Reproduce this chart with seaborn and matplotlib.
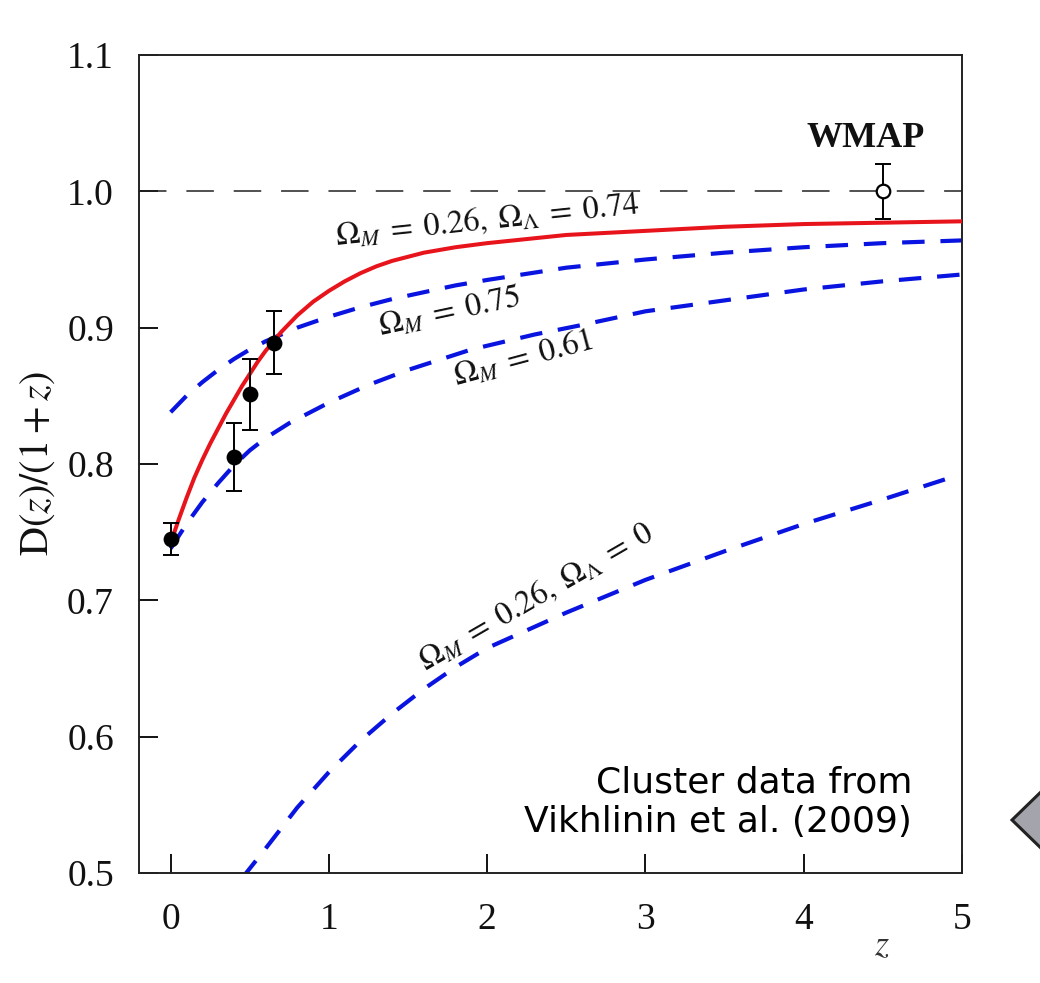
import matplotlib
matplotlib.use("Agg")
import matplotlib.pyplot as plt
from matplotlib.patches import Polygon
import seaborn as sns
import pandas as pd

# ---- data ----
z_lcdm = [0.0, 0.05, 0.1, 0.15, 0.2, 0.25, 0.3, 0.35, 0.4, 0.45, 0.5, 0.55, 0.6, 0.65, 0.7,
          0.8, 0.9, 1.0, 1.1, 1.2, 1.3, 1.4, 1.5, 1.6, 1.8, 2.0, 2.25, 2.5, 3.0, 3.5, 4.0,
          4.5, 5.0]
d_lcdm = [0.742, 0.759, 0.775, 0.790, 0.803, 0.815, 0.826, 0.837, 0.847, 0.857, 0.866, 0.875,
          0.883, 0.890, 0.897, 0.909, 0.919, 0.927, 0.934, 0.940, 0.945, 0.949, 0.952, 0.955,
          0.959, 0.962, 0.965, 0.968, 0.971, 0.974, 0.976, 0.977, 0.978]

z_om075 = [0.0, 0.1, 0.2, 0.3, 0.4, 0.5, 0.6, 0.7, 0.8, 0.9, 1.0, 1.2, 1.4, 1.6, 1.8, 2.0,
           2.5, 3.0, 3.5, 4.0, 4.5, 5.0]
d_om075 = [0.838, 0.850, 0.860, 0.869, 0.877, 0.884, 0.890, 0.895, 0.900, 0.904, 0.908, 0.915,
           0.921, 0.926, 0.931, 0.935, 0.944, 0.950, 0.955, 0.959, 0.962, 0.964]

z_om061 = [0.0, 0.1, 0.2, 0.3, 0.4, 0.5, 0.6, 0.75, 0.9, 1.0, 1.25, 1.5, 1.9, 2.3, 2.6, 3.0,
           3.5, 4.0, 4.5, 5.0]
d_om061 = [0.738, 0.756, 0.772, 0.786, 0.799, 0.810, 0.819, 0.830, 0.839, 0.845, 0.858, 0.869,
           0.884, 0.895, 0.902, 0.912, 0.920, 0.928, 0.934, 0.939]

z_open = [0.45, 0.6, 0.8, 1.0, 1.2, 1.4, 1.6, 1.8, 2.0, 2.5, 3.0, 3.5, 4.0, 4.5, 4.9]
d_open = [0.496, 0.518, 0.548, 0.574, 0.597, 0.617, 0.635, 0.651, 0.665, 0.691, 0.715, 0.736,
          0.756, 0.774, 0.789]

cluster_z = [0.0, 0.40, 0.50, 0.65]
cluster_d = [0.745, 0.805, 0.851, 0.889]
cluster_err = [0.012, 0.025, 0.026, 0.023]

wmap_z = [4.5]
wmap_d = [1.0]
wmap_err = [0.02]

x_ticks = [0, 1, 2, 3, 4, 5]
y_ticks = [0.5, 0.6, 0.7, 0.8, 0.9, 1.0, 1.1]
y_tick_labels = ["0.5", "0.6", "0.7", "0.8", "0.9", "1.0", "1.1"]

# ---- styling ----
sns.set_theme(style="ticks")
plt.rcParams["font.family"] = ["Liberation Serif", "DejaVu Serif"]
plt.rcParams["mathtext.fontset"] = "stix"

W, H = 1040, 983
fig = plt.figure(figsize=(W / 100, H / 100), dpi=100)
fig.patch.set_facecolor("white")
ax = fig.add_axes([139 / W, 1 - 873 / H, (962 - 139) / W, (873 - 55) / H])
ax.set_facecolor("white")

RED = "#e8141c"
BLUE = "#0a14e0"

ax.axhline(1.0, color="#222222", lw=1.1, linestyle=(0, (18, 13)), zorder=1)

df_lcdm = pd.DataFrame({"z": z_lcdm, "d": d_lcdm})
df_075 = pd.DataFrame({"z": z_om075, "d": d_om075})
df_061 = pd.DataFrame({"z": z_om061, "d": d_om061})
df_open = pd.DataFrame({"z": z_open, "d": d_open})

dash = (0, (5.4, 3.8))
for df in (df_075, df_061, df_open):
    sns.lineplot(data=df, x="z", y="d", ax=ax, color=BLUE, lw=3.0, linestyle=dash,
                 estimator=None, sort=False, zorder=2)
sns.lineplot(data=df_lcdm, x="z", y="d", ax=ax, color=RED, lw=2.9, linestyle="-",
             estimator=None, sort=False, zorder=3)

# cluster data
ax.errorbar(cluster_z, cluster_d, yerr=cluster_err, fmt="none", ecolor="black",
            elinewidth=1.4, capsize=5.5, capthick=1.4, zorder=4)
sns.scatterplot(x=cluster_z, y=cluster_d, ax=ax, color="black", s=130,
                edgecolor="black", linewidth=0, zorder=5)
# WMAP point
ax.errorbar(wmap_z, wmap_d, yerr=wmap_err, fmt="none", ecolor="black",
            elinewidth=1.4, capsize=5.5, capthick=1.4, zorder=4)
sns.scatterplot(x=wmap_z, y=wmap_d, ax=ax, color="white", s=95,
                edgecolor="black", linewidth=1.6, zorder=5)

# curve labels
lab_kw = dict(fontsize=23, ha="center", va="center", rotation_mode="anchor", color="#111111")
ax.text(2.0, 0.978, r"$\Omega_M\;=\;0.26,\;\Omega_\Lambda\;=\;0.74$", rotation=6, **lab_kw)
ax.text(1.76, 0.911, r"$\Omega_M\;=\;0.75$", rotation=12, **lab_kw)
ax.text(2.23, 0.877, r"$\Omega_M\;=\;0.61$", rotation=15, **lab_kw)
ax.text(2.31, 0.702, r"$\Omega_M\;=\;0.26,\;\Omega_\Lambda\;=\;0$", rotation=30, **lab_kw)

ax.text(4.39, 1.039, "WMAP", fontsize=26, fontweight="bold", ha="center", va="center",
        color="#111111")

ax.text(4.685, 0.552, "Cluster data from\nVikhlinin et al. (2009)", fontsize=26,
        family=["DejaVu Sans"], ha="right", va="center", linespacing=1.22,
        color="black")

# axes
ax.set_xlim(-0.2, 5.0)
ax.set_ylim(0.5, 1.1)
ax.set_xticks(x_ticks)
ax.set_xticklabels([str(t) for t in x_ticks])
ax.set_yticks(y_ticks)
ax.set_yticklabels(y_tick_labels)
ax.tick_params(axis="both", direction="in", length=14, width=1.3, colors="black",
               labelsize=27, labelcolor="#111111")
ax.tick_params(axis="x", pad=21)
ax.tick_params(axis="y", pad=18)
for sp in ax.spines.values():
    sp.set_visible(True)
    sp.set_color("#222222")
    sp.set_linewidth(1.4)

ax.set_xlabel(r"$z$", fontsize=26, color="#333333")
ax.xaxis.set_label_coords(0.903, -0.070)
ax.set_ylabel(r"$\mathrm{D}(z)/(1+z)$", fontsize=29, color="#111111")
ax.yaxis.set_label_coords(-0.100, 0.5)

# slide navigation arrow (decoration)
arrow_pts = [(1012 / W, 1 - 820 / H), (1046 / W, 1 - 787 / H), (1046 / W, 1 - 853 / H)]
fig.add_artist(Polygon(arrow_pts, closed=True, transform=fig.transFigure,
                       facecolor="#a4a4ac", edgecolor="#222222", lw=2.2, clip_on=False))

fig.savefig("out.png", dpi=100, facecolor="white")
